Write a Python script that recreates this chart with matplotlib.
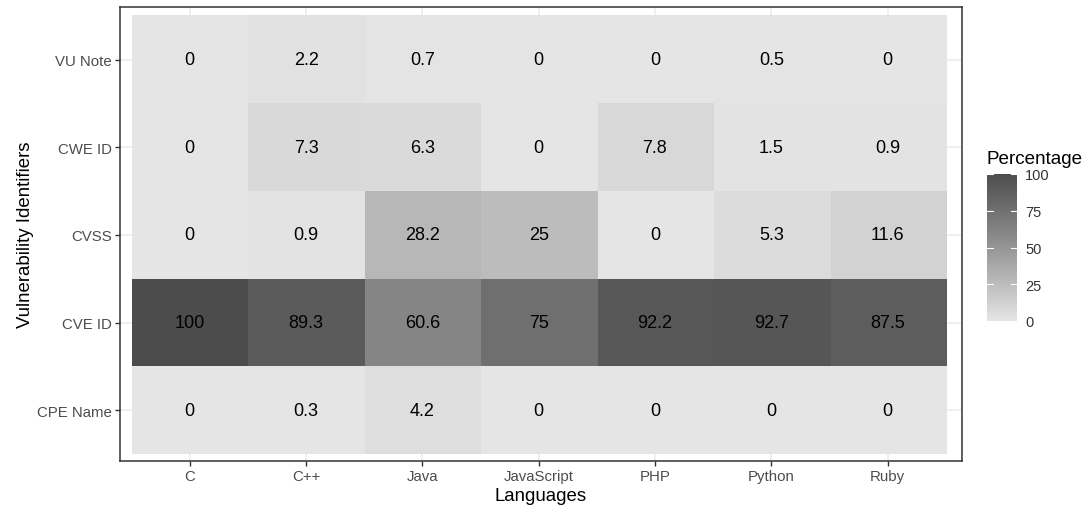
import numpy as np
import matplotlib.pyplot as plt
from matplotlib.colors import LinearSegmentedColormap, Normalize
from matplotlib.colorbar import ColorbarBase

plt.rcParams['font.family'] = ['Liberation Sans', 'DejaVu Sans']

languages = ['C', 'C++', 'Java', 'JavaScript', 'PHP', 'Python', 'Ruby']
identifiers = ['CPE Name', 'CVE ID', 'CVSS', 'CWE ID', 'VU Note']

# rows follow identifiers (bottom to top)
cpe_name = [0, 0.3, 4.2, 0, 0, 0, 0]
cve_id = [100, 89.3, 60.6, 75, 92.2, 92.7, 87.5]
cvss = [0, 0.9, 28.2, 25, 0, 5.3, 11.6]
cwe_id = [0, 7.3, 6.3, 0, 7.8, 1.5, 0.9]
vu_note = [0, 2.2, 0.7, 0, 0, 0.5, 0]

values = np.array([cpe_name, cve_id, cvss, cwe_id, vu_note])


# grey90 -> grey30, interpolated in Lab lightness like ggplot
def srgb_to_L(v):
    c = v / 255
    lin = np.where(c <= 0.04045, c / 12.92, ((c + 0.055) / 1.055) ** 2.4)
    f = np.where(lin > 216 / 24389, np.cbrt(lin), (24389 / 27 * lin + 16) / 116)
    return 116 * f - 16


def L_to_srgb(L):
    f = (L + 16) / 116
    lin = np.where(f ** 3 > 216 / 24389, f ** 3, (116 * f - 16) / (24389 / 27))
    c = np.where(lin <= 0.0031308, 12.92 * lin, 1.055 * lin ** (1 / 2.4) - 0.055)
    return np.clip(c, 0, 1)


L_lo, L_hi = srgb_to_L(229.0), srgb_to_L(77.0)
t = np.linspace(0, 1, 256)
greys = L_to_srgb(L_lo + (L_hi - L_lo) * t)
cmap = LinearSegmentedColormap.from_list('ggrey', [(g, g, g) for g in greys])
norm = Normalize(0, 100)

fig = plt.figure(figsize=(10.83, 5.10), dpi=100)
ax = fig.add_axes([120 / 1083, 48 / 510, 842 / 1083, 454 / 510])

ax.set_axisbelow(True)
ax.grid(True, color='#EBEBEB', linewidth=1.1)
ax.imshow(values, cmap=cmap, norm=norm, origin='lower', aspect='auto',
          extent=(-0.5, 6.5, -0.5, 4.5), zorder=2)
ax.set_xlim(-0.6, 6.64)
ax.set_ylim(-0.58, 4.6)

for i in range(values.shape[0]):
    for j in range(values.shape[1]):
        v = values[i, j]
        txt = f'{v:g}'
        ax.text(j, i, txt, ha='center', va='center', fontsize=13, color='black', zorder=3)

ax.set_xticks(range(len(languages)))
ax.set_xticklabels(languages)
ax.set_yticks(range(len(identifiers)))
ax.set_yticklabels(identifiers)
ax.tick_params(colors='#333333', labelcolor='#4D4D4D', labelsize=10.8, length=3.5, width=1, pad=2.5)
for s in ax.spines.values():
    s.set_color('#333333')
    s.set_linewidth(1.1)

ax.set_xlabel('Languages', fontsize=13.4, labelpad=3)
ax.set_ylabel('Vulnerability Identifiers', fontsize=13.4, labelpad=2)

cax = fig.add_axes([987 / 1083, 188 / 510, 30 / 1083, 147 / 510])
cb = ColorbarBase(cax, cmap=cmap, norm=norm, ticks=[0, 25, 50, 75, 100])
cb.outline.set_visible(False)
cax.tick_params(length=0, labelsize=10.5, labelcolor='#333333', pad=6)
for v in [0, 25, 50, 75, 100]:
    cax.plot([0, 0.2], [v, v], color='white', lw=0.8)
    cax.plot([0.8, 1.0], [v, v], color='white', lw=0.8)
cax.set_xlim(0, 1)
fig.text(986 / 1083, 1 - 159 / 510, 'Percentage', fontsize=13.6, ha='left', va='center')

fig.savefig('out.png', dpi=100)
